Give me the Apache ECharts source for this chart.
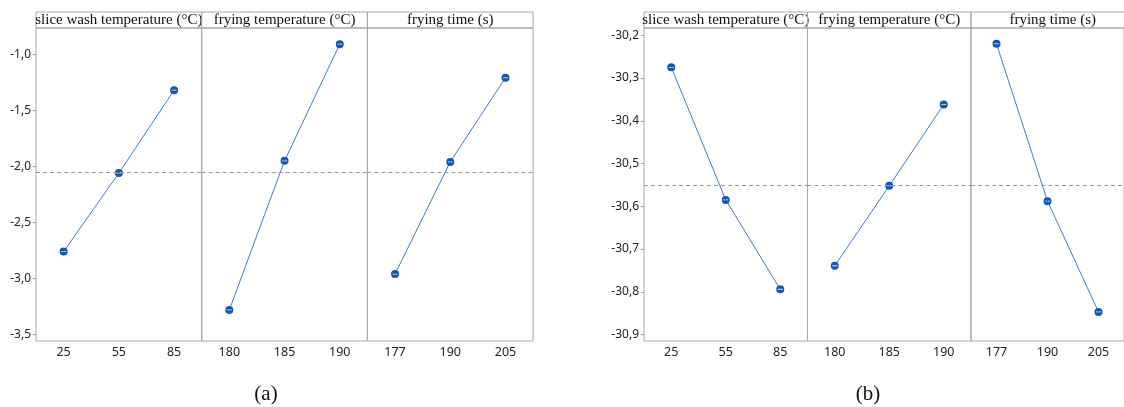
<!DOCTYPE html>
<html><head><meta charset="utf-8">
<script src="https://cdn.jsdelivr.net/npm/echarts@6/dist/echarts.min.js"></script>
<style>html,body{margin:0;padding:0;background:#fff}#c{width:1124px;height:407px}</style>
</head><body><div id="c"></div>
<script>
// ---- data ----
const factorNames = ['slice wash temperature (°C)', 'frying temperature (°C)', 'frying time (s)'];
const washLevels = ['25', '55', '85'];
const fryTempLevels = ['180', '185', '190'];
const fryTimeLevels = ['177', '190', '205'];
const aWash = [-2.76, -2.06, -1.32];
const aFryTemp = [-3.28, -1.95, -0.91];
const aFryTime = [-2.96, -1.96, -1.21];
const bWash = [-30.275, -30.585, -30.794];
const bFryTemp = [-30.739, -30.552, -30.362];
const bFryTime = [-30.220, -30.588, -30.847];
const aTicks = [-3.5, -3.0, -2.5, -2.0, -1.5, -1.0];
const bTicks = [-30.9, -30.8, -30.7, -30.6, -30.5, -30.4, -30.3, -30.2];
const captions = ['(a)', '(b)'];

// ---- layout / style ----
const levels = [washLevels, fryTempLevels, fryTimeLevels];
const charts = [
  {left: 36, w: 165.7, vals: [aWash, aFryTemp, aFryTime], ticks: aTicks, min: -3.557, max: -0.766, cap: captions[0], capX: 266},
  {left: 644, w: 163.5, vals: [bWash, bFryTemp, bFryTime], ticks: bTicks, min: -30.915, max: -30.183, cap: captions[1], capX: 868}
];
const TOP = 28, H = 313, HEAD = 16;
const border = '#a8a8a8';
const sym = 'path://M0,10 A10,10 0 1,1 20,10 A10,10 0 1,1 0,10 Z M4,9 L4,11 L16,11 L16,9 Z';
const sans = 'Noto Sans';

const grid = [], xAxis = [], yAxis = [], series = [], graphic = [];
let gi = 0;
charts.forEach(ch => {
  const all = ch.vals.flat();
  const mean = all.reduce((s, v) => s + v, 0) / all.length;
  ch.vals.forEach((vals, k) => {
    const left = ch.left + k * ch.w;
    grid.push({left: left, top: TOP, width: ch.w, height: H, show: true, borderColor: border, borderWidth: 1, containLabel: false});
    xAxis.push({gridIndex: gi, type: 'category', data: levels[k], boundaryGap: true,
      axisLine: {show: false}, axisTick: {show: false}, splitLine: {show: false},
      axisLabel: {fontSize: 12.5, color: '#222', margin: 5, fontFamily: sans}});
    const first = k === 0;
    yAxis.push({gridIndex: gi, type: 'value', min: ch.min, max: ch.max,
      axisLine: {show: false}, splitLine: {show: false},
      axisTick: {show: first, length: 3, customValues: ch.ticks, lineStyle: {color: '#999'}},
      axisLabel: {show: first, customValues: ch.ticks, fontSize: 12, color: '#222', margin: 5, fontFamily: sans,
        formatter: v => v.toFixed(1).replace('.', ',')}});
    series.push({type: 'line', xAxisIndex: gi, yAxisIndex: gi, data: vals,
      lineStyle: {color: '#3f7cc9', width: 1}, symbol: sym, symbolSize: 8,
      itemStyle: {color: '#1458a8'}, animation: false, z: 3,
      markLine: {silent: true, symbol: 'none', animation: false, label: {show: false},
        lineStyle: {color: '#9a9a9a', type: [4, 3], width: 1},
        data: [{yAxis: mean}]}});
    graphic.push({type: 'rect', shape: {x: left, y: TOP - HEAD, width: ch.w, height: HEAD},
      style: {fill: 'none', stroke: border, lineWidth: 1}});
    graphic.push({type: 'text', x: left + ch.w / 2, y: TOP - HEAD / 2,
      style: {text: factorNames[k], align: 'center', verticalAlign: 'middle',
        font: '15px "Liberation Serif"', fill: '#111'}});
    gi++;
  });
  graphic.push({type: 'text', x: ch.capX, y: 394,
    style: {text: ch.cap, align: 'center', verticalAlign: 'middle', font: '21px "Liberation Serif"', fill: '#111'}});
});

const chart = echarts.init(document.getElementById('c'));
chart.setOption({animation: false, backgroundColor: '#fff', grid, xAxis, yAxis, series, graphic});
</script>
</body></html>
